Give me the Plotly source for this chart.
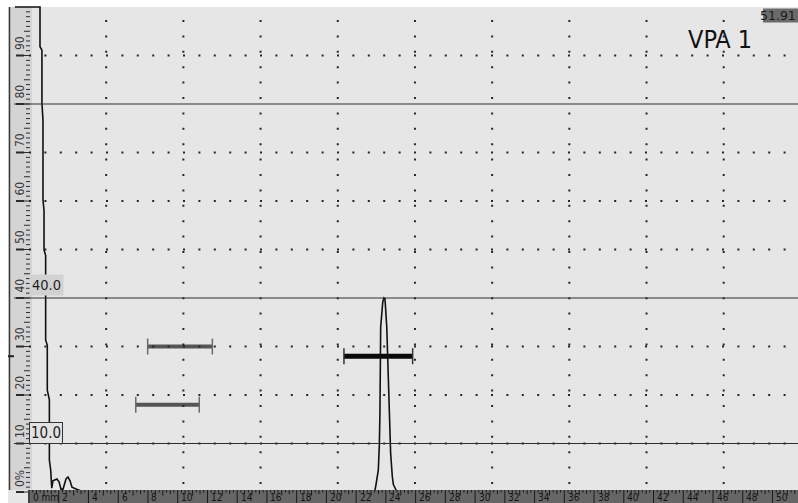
import plotly.graph_objects as go

# ---------------- data ----------------
RANGE_MM = 51.91

signal_mm = [-0.95, 0.74, 0.74, 0.87, 0.87, 0.94, 0.94, 1.01, 1.01, 1.12, 1.12, 1.23,
             1.23, 1.37, 1.37, 1.46, 1.53, 1.61, 1.88, 2.02, 2.15, 2.29, 2.49, 2.62,
             2.76, 2.89, 3.16, 3.43, 23.10, 23.27, 23.34, 23.49, 23.56, 23.60, 23.65,
             23.72, 23.79, 23.87, 23.94, 24.06, 24.12, 24.23, 24.32, 24.43, 24.50,
             24.68, 24.85, 51.91]
signal_amp = [100, 100, 91.8, 91.1, 80.2, 76.7, 60.2, 58.1, 49.9, 48.8, 31.3, 30.3,
              21.0, 19.0, 6.6, 4.5, 0.8, 2.3, 2.7, 2.1, 0.6, 0.6, 2.7, 3.1,
              2.3, 1.0, 0.6, 0.3, 0.0, 0.4, 1.6, 4.5, 9.7, 16.3, 34.0,
              36.9, 39.2, 40.0, 39.8, 34.0, 27.8, 16.3, 8.0, 3.3, 1.6,
              0.4, 0.0, 0.0]

gate_start = [7.98, 7.18, 21.18]
gate_end = [12.33, 11.45, 25.80]
gate_level = [30.0, 18.0, 28.0]

ref_levels = [80, 40, 10]
ref_label_levels = [40, 10]
ref_label_texts = ["40.0", "10.0"]

grid_x = [RANGE_MM / 10 * k for k in range(1, 10)]
grid_y = [10, 20, 30, 50, 60, 70, 90]

x_ruler_ticks = list(range(0, 52, 2))
x_ruler_labels = ["0 mm"] + [str(v) for v in x_ruler_ticks[1:]]
y_ruler_ticks = list(range(0, 100, 10))
y_ruler_labels = ["0%"] + [str(v) for v in y_ruler_ticks[1:]]

title_text = "VPA 1"
range_text = "51.91"

# ---------------- layout geometry ----------------
W, H = 798, 503
PX_MM = 14.87      # pixels per mm
PX_PCT = 4.85      # pixels per %
X0 = 29            # pixel of 0 mm
Y0 = 492           # pixel of 0 %

def xd(px):
    return (px - X0) / PX_MM

def yd(py):
    return (Y0 - py) / PX_PCT

XMIN, XMAX = xd(0), xd(W)
YMIN, YMAX = yd(H), yd(0)

BG = "#e6e6e6"
FONT = "DejaVu Sans Condensed, DejaVu Sans, sans-serif"
FONT_W = "DejaVu Sans, sans-serif"

shapes = []
annotations = []

# background panel
shapes.append(dict(type="rect", layer="below", x0=xd(8), x1=XMAX, y0=YMIN, y1=100,
                   fillcolor=BG, line_width=0))

# left ruler panel
shapes.append(dict(type="rect", layer="below", x0=xd(9), x1=xd(32), y0=yd(490), y1=100,
                   fillcolor="#d4d4d4", line_width=0))
shapes.append(dict(type="line", layer="below", x0=xd(9.5), x1=xd(9.5), y0=yd(490), y1=100,
                   line=dict(color="#3a3a3a", width=1.5)))
minor_path = ""
major_path = ""
for p in range(0, 100):
    if p % 10 == 0:
        major_path += f"M{xd(16)},{p} L{xd(24)},{p} "
        minor_path += f"M{xd(24)},{p} L{xd(30)},{p} "
    elif p % 5 == 0:
        minor_path += f"M{xd(24)},{p} L{xd(30)},{p} "
    else:
        minor_path += f"M{xd(26)},{p} L{xd(30)},{p} "
shapes.append(dict(type="path", layer="below", path=minor_path,
                   line=dict(color="#2a2a2a", width=1)))
shapes.append(dict(type="path", layer="below", path=major_path,
                   line=dict(color="#2a2a2a", width=2)))
for v, t in zip(y_ruler_ticks, y_ruler_labels):
    annotations.append(dict(x=xd(19.5), y=v, text=t, showarrow=False, textangle=-90,
                            xanchor="center", yanchor="bottom", yshift=3,
                            font=dict(family=FONT, size=12, color="#3a3a3a")))
# level marker on left edge
shapes.append(dict(type="line", layer="above", x0=xd(8), x1=xd(14), y0=28, y1=28,
                   line=dict(color="#222222", width=2)))

# gates
gate_styles = [dict(bar="#555555", tick="#6a6a6a", w=4),
               dict(bar="#555555", tick="#6a6a6a", w=4),
               dict(bar="#0a0a0a", tick="#333333", w=5)]
for s, e, lv, st in zip(gate_start, gate_end, gate_level, gate_styles):
    shapes.append(dict(type="line", layer="below", x0=s, x1=e, y0=lv, y1=lv,
                       line=dict(color=st["bar"], width=st["w"])))
    for xx in (s, e):
        shapes.append(dict(type="line", layer="below", x0=xx, x1=xx,
                           y0=lv - 8 / PX_PCT, y1=lv + 8 / PX_PCT,
                           line=dict(color=st["tick"], width=1.5)))

# dotted grid
DOT = "2px,13.4px"
for gx in grid_x:
    shapes.append(dict(type="line", layer="below", x0=gx, x1=gx, y0=yd(20), y1=0,
                       line=dict(color="#262626", width=2, dash=DOT)))
for gy in grid_y:
    shapes.append(dict(type="line", layer="below", x0=0, x1=XMAX, y0=gy, y1=gy,
                       line=dict(color="#262626", width=2, dash=DOT)))

# solid reference lines
for lv in ref_levels:
    shapes.append(dict(type="line", layer="above", x0=xd(14), x1=XMAX, y0=lv, y1=lv,
                       line=dict(color="#2e2e2e", width=1.2)))

# reference labels
annotations.append(dict(x=xd(46), y=ref_label_levels[0], yshift=13, text=ref_label_texts[0],
                        showarrow=False, bgcolor="#d2d2d2", borderpad=2,
                        font=dict(family=FONT, size=14.5, color="#1e1e1e")))
annotations.append(dict(x=xd(46), y=ref_label_levels[1], yshift=11, text=ref_label_texts[1],
                        showarrow=False, bgcolor="#e2e2e2", bordercolor="#333333",
                        borderwidth=1, borderpad=1,
                        font=dict(family=FONT, size=15, color="#1e1e1e")))

# bottom ruler
shapes.append(dict(type="rect", layer="above", x0=xd(28), x1=XMAX, y0=YMIN, y1=yd(490),
                   fillcolor="#666666", line_width=0))
tick_path = ""
k = 0
while k * 0.25 <= XMAX:
    xv = k * 0.25
    top = yd(490)
    if k % 8 == 0:
        bot = YMIN
    elif k % 4 == 0:
        bot = yd(495.5)
    elif k % 2 == 0:
        bot = yd(494)
    else:
        bot = yd(492.5)
    tick_path += f"M{xv},{top} L{xv},{bot} "
    k += 1
shapes.append(dict(type="path", layer="above", path=tick_path,
                   line=dict(color="#1a1a1a", width=1)))
for v, t in zip(x_ruler_ticks, x_ruler_labels):
    annotations.append(dict(x=v, y=yd(497.5), text=t, showarrow=False, xanchor="left",
                            yanchor="middle", xshift=1.5,
                            font=dict(family=FONT, size=10, color="#141414")))

# range box top right
shapes.append(dict(type="rect", layer="above", x0=xd(763), x1=XMAX, y0=yd(22.5), y1=yd(8.5),
                   fillcolor="#6b6b6b", line_width=0))
annotations.append(dict(x=XMAX, y=yd(15.5), text=range_text, showarrow=False,
                        xanchor="right", yanchor="middle", xshift=0,
                        font=dict(family=FONT_W, size=12.5, color="#1a1a1a")))

# title
annotations.append(dict(x=xd(720), y=yd(39), text=title_text, showarrow=False,
                        xanchor="center", yanchor="middle",
                        font=dict(family=FONT, size=25, color="#111111")))

fig = go.Figure()
fig.add_trace(go.Scatter(x=signal_mm, y=signal_amp, mode="lines",
                         line=dict(color="#111111", width=1.6),
                         hoverinfo="skip", showlegend=False))

fig.update_layout(
    width=W, height=H,
    margin=dict(l=0, r=0, t=0, b=0, pad=0, autoexpand=False),
    paper_bgcolor="white", plot_bgcolor="white",
    showlegend=False,
    xaxis=dict(range=[XMIN, XMAX], visible=False, fixedrange=True),
    yaxis=dict(range=[YMIN, YMAX], visible=False, fixedrange=True),
    shapes=shapes, annotations=annotations,
)

fig.write_html(
    "out.html",
    config={"displayModeBar": False},
    post_script="document.body.style.margin='0';document.body.style.overflow='hidden';",
)
